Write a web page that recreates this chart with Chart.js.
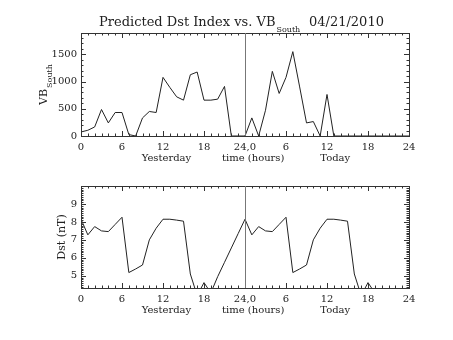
<!DOCTYPE html>
<html>
<head>
<meta charset="utf-8">
<script src="https://cdn.jsdelivr.net/npm/chart.js@4.4.0/dist/chart.umd.min.js"></script>
<style>
  html, body { margin: 0; padding: 0; background: #fff; }
  #wrap { position: relative; width: 453px; height: 340px; background: #fff; }
  canvas { position: absolute; left: 0; }
  #vbChart { top: 0; }
  #dstChart { top: 170px; }
</style>
</head>
<body>
<div id="wrap">
  <canvas id="vbChart" width="453" height="170"></canvas>
  <canvas id="dstChart" width="453" height="170"></canvas>
</div>
<script>
// hours since start of yesterday (0..48)
const hours = [0,1,2,3,4,5,6,7,8,9,10,11,12,13,14,15,16,17,18,19,20,21,22,23,24,
               25,26,27,28,29,30,31,32,33,34,35,36,37,38,39,40,41,42,43,44,45,46,47,48];

// VB south, hourly
const vbSouth = [74,105,166,486,240,431,431,26,0,332,450,431,1076,892,719,658,1124,1174,658,658,676,910,0,0,0,
                 332,0,473,1186,781,1076,1548,900,240,265,0,762,0,0,0,0,0,0,0,0,0,0,0,0];

// predicted Dst (nT), hourly up to hour 43
const dstIndex = [8.15,7.28,7.74,7.5,7.46,7.86,8.26,5.18,5.38,5.6,7.0,7.65,8.15,8.15,8.1,8.04,5.1,3.9,4.62,4.05,4.95,5.75,6.55,7.35,8.15,
                  7.28,7.74,7.5,7.46,7.86,8.26,5.18,5.38,5.6,7.0,7.65,8.15,8.15,8.1,8.04,5.1,3.9,4.62,4.05];

const xTickVals = [0,6,12,18,24,30,36,42,48];
const xTickLabels = ['0','6','12','18','24,0','6','12','18','24'];
const vbTickVals = [0,500,1000,1500];
const dstTickVals = [5,6,7,8,9];
const dayLabels = ['Yesterday','time (hours)','Today'];
const dayLabelPos = [12.5,25.2,37.2];

const FONT = 'DejaVu Serif';
const INK = '#222';

// IDL-style box: inward ticks on all four sides, divider at hour 24
function makeFrame(cfg) {
  return {
    id: 'frame',
    afterDatasetsDraw(chart) {
      const ctx = chart.ctx, a = chart.chartArea;
      const xs = chart.scales.x, ys = chart.scales.y;
      ctx.save();
      ctx.strokeStyle = '#333';
      ctx.lineWidth = 1;
      ctx.strokeRect(Math.round(a.left) + 0.5, Math.round(a.top) + 0.5,
                     Math.round(a.right - a.left), Math.round(a.bottom - a.top));
      ctx.beginPath();
      const tickX = (v, len) => {
        const px = Math.round(xs.getPixelForValue(v)) + 0.5;
        ctx.moveTo(px, a.bottom); ctx.lineTo(px, a.bottom - len);
        ctx.moveTo(px, a.top); ctx.lineTo(px, a.top + len);
      };
      const tickY = (v, len) => {
        const py = Math.round(ys.getPixelForValue(v)) + 0.5;
        ctx.moveTo(a.left, py); ctx.lineTo(a.left + len, py);
        ctx.moveTo(a.right, py); ctx.lineTo(a.right - len, py);
      };
      for (let h = 0; h <= 48; h++) tickX(h, h % 6 === 0 ? 5 : 2.5);
      for (let v = cfg.minorStart; v <= ys.max + 1e-9; v += cfg.minorStep) tickY(v, 2.5);
      cfg.majors.forEach(v => tickY(v, 5));
      ctx.stroke();

      // divider between days
      const dx = Math.round(xs.getPixelForValue(24)) + 0.5;
      ctx.strokeStyle = '#777';
      ctx.beginPath();
      ctx.moveTo(dx, a.top); ctx.lineTo(dx, a.bottom);
      ctx.stroke();

      ctx.fillStyle = INK;
      ctx.textBaseline = 'middle';
      ctx.textAlign = 'center';
      ctx.font = '10px "' + FONT + '"';
      dayLabels.forEach((t, i) => ctx.fillText(t, xs.getPixelForValue(dayLabelPos[i]), a.bottom + 22));

      cfg.extra && cfg.extra(ctx, a);
      ctx.restore();
    }
  };
}

function baseOptions(yMin, yMax, yTicks, yPad) {
  return {
    responsive: false,
    animation: false,
    events: [],
    layout: { padding: { top: yPad.top, right: 44, left: 0, bottom: 0 } },
    plugins: { legend: { display: false }, tooltip: { enabled: false } },
    scales: {
      x: {
        type: 'linear', min: 0, max: 48,
        grid: { display: false, drawTicks: false, tickLength: 0 }, border: { display: false },
        afterBuildTicks: s => { s.ticks = xTickVals.map(v => ({ value: v })); },
        afterFit: s => { s.height = yPad.bottom; },
        ticks: {
          autoSkip: false, maxRotation: 0, padding: 5, color: INK,
          font: { family: FONT, size: 10 },
          callback: (v, i) => xTickLabels[i]
        }
      },
      y: {
        type: 'linear', min: yMin, max: yMax,
        grid: { display: false, drawTicks: false, tickLength: 0 }, border: { display: false },
        afterBuildTicks: s => { s.ticks = yTicks.map(v => ({ value: v })); },
        afterFit: s => { s.width = 81; },
        ticks: { padding: 4, color: INK, font: { family: FONT, size: 10 }, callback: v => String(v) }
      }
    }
  };
}

function lineSet(values) {
  return {
    data: values.map((v, i) => ({ x: hours[i], y: v })),
    borderColor: INK, borderWidth: 1, pointRadius: 0, tension: 0, fill: false
  };
}

// top panel: VB south
new Chart(document.getElementById('vbChart'), {
  type: 'line',
  data: { datasets: [lineSet(vbSouth)] },
  options: baseOptions(0, 1890, vbTickVals, { top: 33, bottom: 34 }),
  plugins: [makeFrame({
    majors: vbTickVals, minorStart: 0, minorStep: 100,
    extra(ctx, a) {
      // title with subscript
      ctx.textAlign = 'left';
      ctx.textBaseline = 'alphabetic';
      ctx.font = '13px "' + FONT + '"';
      const main = 'Predicted Dst Index vs. VB';
      ctx.fillText(main, 99, 26);
      const w = ctx.measureText(main).width;
      ctx.font = '8px "' + FONT + '"';
      ctx.fillText('South', 99 + w + 1, 32);
      ctx.font = '13px "' + FONT + '"';
      ctx.fillText('04/21/2010', 309, 26);

      // y title, rotated
      ctx.save();
      ctx.translate(47, (a.top + a.bottom) / 2);
      ctx.rotate(-Math.PI / 2);
      ctx.font = '11px "' + FONT + '"';
      const vw = ctx.measureText('VB').width;
      ctx.font = '8px "' + FONT + '"';
      const sw = ctx.measureText('South').width;
      const x0 = -(vw + sw + 1) / 2;
      ctx.font = '11px "' + FONT + '"';
      ctx.fillText('VB', x0, 0);
      ctx.font = '8px "' + FONT + '"';
      ctx.fillText('South', x0 + vw + 1, 5);
      ctx.restore();
    }
  })]
});

// bottom panel: predicted Dst
new Chart(document.getElementById('dstChart'), {
  type: 'line',
  data: { datasets: [lineSet(dstIndex)] },
  options: baseOptions(4.32, 10, dstTickVals, { top: 16, bottom: 52 }),
  plugins: [makeFrame({
    majors: dstTickVals, minorStart: 4.4, minorStep: 0.1,
    extra(ctx, a) {
      ctx.save();
      ctx.translate(62, (a.top + a.bottom) / 2);
      ctx.rotate(-Math.PI / 2);
      ctx.textAlign = 'center';
      ctx.textBaseline = 'middle';
      ctx.font = '11px "' + FONT + '"';
      ctx.fillText('Dst (nT)', 0, 0);
      ctx.restore();
    }
  })]
});
</script>
</body>
</html>
